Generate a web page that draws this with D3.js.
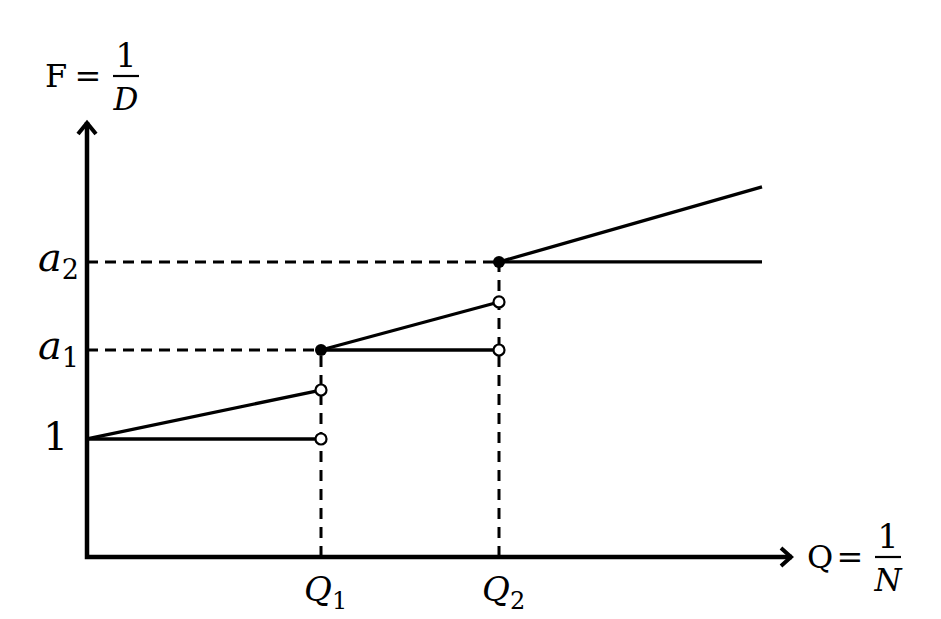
<!DOCTYPE html>
<html><head><meta charset="utf-8">
<script src="https://cdn.jsdelivr.net/npm/d3@7"></script>
<style>body{margin:0;background:#fff}svg{display:block}</style>
</head><body>
<script>
// ---- data ----
const xTickValues = [2.34, 4.12];
const xTickLabels = ["Q", "Q"];
const xTickSubs = ["1", "2"];
const yTickValues = [1, 1.754, 2.5];
const yTickLabels = ["1", "a", "a"];
const yTickSubs = ["", "1", "2"];
const flatSegments = [
  [[0, 1], [2.34, 1]],
  [[2.34, 1.754], [4.12, 1.754]],
  [[4.12, 2.5], [6.75, 2.5]]
];
const slopeSegments = [
  [[0, 1], [2.34, 1.415]],
  [[2.34, 1.754], [4.12, 2.161]],
  [[4.12, 2.5], [6.75, 3.136]]
];
const openPoints = [[2.34, 1], [2.34, 1.415], [4.12, 1.754], [4.12, 2.161]];
const filledPoints = [[2.34, 1.754], [4.12, 2.5]];
const xMax = 7.05, yMax = 3.686;

const W = 941, H = 619;
const svg = d3.select("body").append("svg").attr("width", W).attr("height", H);
const x = d3.scaleLinear().domain([0, xMax]).range([87, 792]);
const y = d3.scaleLinear().domain([0, yMax]).range([557, 122]);
const line = d3.line().x(d => x(d[0])).y(d => y(d[1]));
const font = "'DejaVu Serif', serif";

// dashed guides
filledPoints.forEach(p => {
  svg.append("path").attr("d", line([[0, p[1]], p]))
    .attr("stroke", "#000").attr("stroke-width", 3).attr("stroke-dasharray", "11,7").attr("fill", "none");
  svg.append("path").attr("d", line([[p[0], 0], p]))
    .attr("stroke", "#000").attr("stroke-width", 3).attr("stroke-dasharray", "11,8").attr("fill", "none");
});

// axes
svg.append("path").attr("d", line([[0, yMax], [0, 0], [xMax, 0]]))
  .attr("stroke", "#000").attr("stroke-width", 4.5).attr("fill", "none").attr("stroke-linejoin", "miter");
// arrowheads
svg.append("path")
  .attr("d", `M${x(0) - 9},${y(yMax) + 12} L${x(0)},${y(yMax) + 1} L${x(0) + 9},${y(yMax) + 12}`)
  .attr("stroke", "#000").attr("stroke-width", 4).attr("fill", "none");
svg.append("path")
  .attr("d", `M${x(xMax) - 11},${y(0) - 9} L${x(xMax) - 1},${y(0)} L${x(xMax) - 11},${y(0) + 9}`)
  .attr("stroke", "#000").attr("stroke-width", 4).attr("fill", "none");

// curves
flatSegments.concat(slopeSegments).forEach(s => {
  svg.append("path").attr("d", line(s)).attr("stroke", "#000").attr("stroke-width", 3.3).attr("fill", "none");
});

// points
svg.selectAll("circle.open").data(openPoints).join("circle").attr("class", "open")
  .attr("cx", d => x(d[0])).attr("cy", d => y(d[1])).attr("r", 5.5)
  .attr("fill", "#fff").attr("stroke", "#000").attr("stroke-width", 2.2);
svg.selectAll("circle.filled").data(filledPoints).join("circle").attr("class", "filled")
  .attr("cx", d => x(d[0])).attr("cy", d => y(d[1])).attr("r", 6)
  .attr("fill", "#000");

// y tick labels
yTickValues.forEach((v, i) => {
  const t = svg.append("text").attr("font-family", font).attr("fill", "#000")
    .attr("text-anchor", "end");
  if (yTickSubs[i]) {
    t.attr("x", x(0) - 8).attr("y", y(v) + 9);
    t.append("tspan").attr("font-style", "italic").attr("font-size", 40).text(yTickLabels[i]);
    t.append("tspan").attr("font-size", 27).attr("dy", 8).text(yTickSubs[i]);
  } else {
    t.attr("x", x(0) - 19).attr("y", y(v) + 11).attr("font-size", 39).text(yTickLabels[i]);
  }
});

// x tick labels
xTickValues.forEach((v, i) => {
  const t = svg.append("text").attr("font-family", font).attr("fill", "#000")
    .attr("x", x(v) - 17).attr("y", 601);
  t.append("tspan").attr("font-style", "italic").attr("font-size", 34).text(xTickLabels[i]);
  t.append("tspan").attr("font-size", 24).attr("dy", 8).text(xTickSubs[i]);
});

// axis titles: F = 1/D, Q = 1/N
function title(x0, base, letter, denom) {
  const g = svg.append("g");
  g.append("text").attr("font-family", font).attr("font-size", 32).attr("x", x0).attr("y", base).text(letter);
  g.append("text").attr("font-family", font).attr("font-size", 32).attr("x", x0 + 43).attr("y", base)
    .attr("text-anchor", "middle").text("=");
  const fx = x0 + 68;
  g.append("line").attr("x1", fx).attr("x2", fx + 26).attr("y1", base - 11).attr("y2", base - 11)
    .attr("stroke", "#000").attr("stroke-width", 2.2);
  g.append("text").attr("font-family", font).attr("font-size", 33).attr("x", fx + 13).attr("y", base - 20)
    .attr("text-anchor", "middle").text("1");
  g.append("text").attr("font-family", font).attr("font-size", 31).attr("font-style", "italic")
    .attr("x", fx + 13).attr("y", base + 23).attr("text-anchor", "middle").text(denom);
}
title(45, 87, "F", "D");
title(807, 568, "Q", "N");
</script>
</body></html>
